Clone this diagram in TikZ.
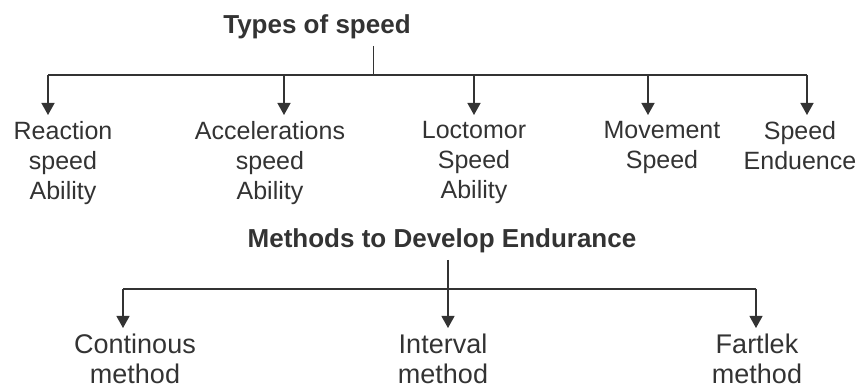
\documentclass[tikz,border=0pt]{standalone}
\usepackage{fontspec}
\setmainfont{Liberation Sans}
\usetikzlibrary{arrows.meta,positioning}
\begin{document}
\begin{tikzpicture}[x=1pt,y=1pt,line join=round]
    \definecolor{inkgray}{rgb}{0.2,0.2,0.2}
    \tikzset{
        head/.style={font=\bfseries\fontsize{26}{31}\selectfont,text=inkgray,inner sep=0pt,anchor=base},
        kid/.style={font=\fontsize{25}{30}\selectfont,text=inkgray,align=center,inner sep=0pt,execute at begin node=\strut},
        kidb/.style={kid,font=\fontsize{27}{30}\selectfont},
        wire/.style={draw=inkgray,line width=1.4pt},
        arr/.style={wire,-{Triangle[width=13pt,length=12pt]}}
    }
    \useasboundingbox (0,0) rectangle (863,-390);
    % types of speed
    \node[head] (speed) at (317,-34) {Types of speed};
    \coordinate (sstem) at (373,-46);
    \coordinate (sbus) at (373,-75);
    \foreach \n/\x in {t1/48,t2/284,t3/474,t4/648,t5/807}
        \coordinate (\n) at (\x,-115);
    \node[kid,below=6pt of t1,xshift=15pt] (reac) {Reaction\\speed\\Ability};
    \node[kid,below=6pt of t2,xshift=-14pt] (accel) {Accelerations\\speed\\Ability};
    \node[kid,below=6pt of t3] (loco) {Loctomor\\Speed\\Ability};
    \node[kid,below=6pt of t4,xshift=14pt] (move) {Movement\\Speed};
    \node[kid,below=6pt of t5,xshift=-7pt] (endu) {Speed\\Enduence};
    \draw[wire,line width=1pt] (sstem) -- (sbus);
    \draw[wire] (t1 |- sbus) -- (t5 |- sbus);
    \foreach \n in {t1,t2,t3,t4,t5}
        \draw[arr] (\n |- sbus) -- (\n);
    % methods
    \node[head] (meth) at (442,-248) {Methods to Develop Endurance};
    \coordinate (mstem) at (448,-260);
    \coordinate (mbus) at (448,-289);
    \foreach \n/\x in {b1/123,b2/448,b3/756}
        \coordinate (\n) at (\x,-328);
    \node[kidb,below=6pt of b1,xshift=12pt] (cont) {Continous\\method};
    \node[kidb,below=6pt of b2,xshift=-5pt] (inter) {Interval\\method};
    \node[kidb,below=6pt of b3,xshift=1pt] (fart) {Fartlek\\method};
    \draw[wire,line width=1.1pt] (mstem) -- (mbus);
    \draw[wire,line width=1.1pt] (b1 |- mbus) -- (b3 |- mbus);
    \foreach \n in {b1,b2,b3}
        \draw[arr,line width=1.1pt] (\n |- mbus) -- (\n);
\end{tikzpicture}
\end{document}
